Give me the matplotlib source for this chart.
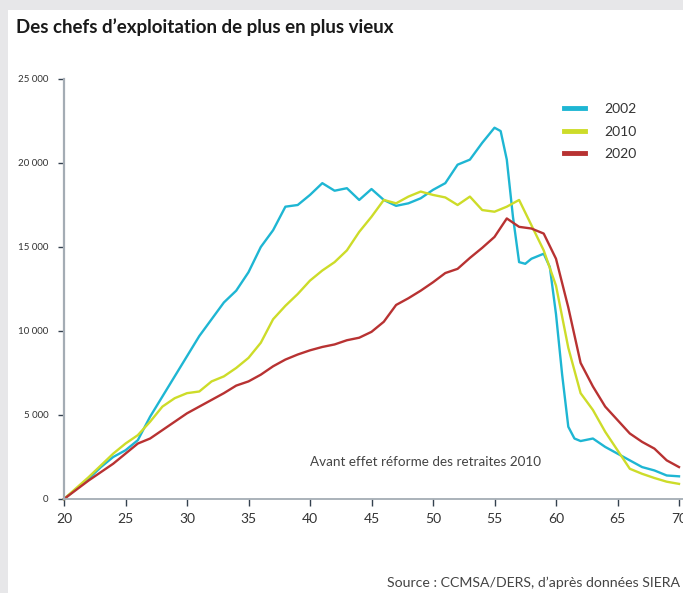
import matplotlib
matplotlib.use('Agg')
import matplotlib.pyplot as plt
from matplotlib.patches import Rectangle
from matplotlib.lines import Line2D
from matplotlib.ticker import FuncFormatter

plt.rcParams['font.family'] = ['Lato', 'DejaVu Sans']

# ages (2002 has a few half-year points around the retirement drop)
ages_2002 = [20, 21, 22, 23, 24, 25, 26, 27, 28, 29, 30, 31, 32, 33, 34, 35,
             36, 37, 38, 39, 40, 41, 42, 43, 44, 45, 46, 47, 48, 49, 50, 51,
             52, 53, 54, 55, 55.5, 56, 56.5, 57, 57.5, 58, 59, 59.5, 60, 60.5,
             61, 61.5, 62, 63, 64, 65, 66, 67, 68, 69, 70]
chefs_2002 = [0, 600, 1200, 1900, 2500, 2900, 3500, 4900, 6100, 7300, 8500,
              9700, 10700, 11700, 12400, 13500, 15000, 16000, 17400, 17500,
              18100, 18800, 18350, 18500, 17800, 18450, 17800, 17450, 17600,
              17900, 18400, 18800, 19900, 20200, 21200, 22100, 21900, 20200,
              16800, 14100, 14000, 14300, 14600, 13800, 11000, 7400, 4300,
              3600, 3450, 3600, 3100, 2700, 2300, 1900, 1700, 1400, 1350]

ages = list(range(20, 71))
chefs_2010 = [0, 650, 1300, 2000, 2700, 3300, 3800, 4600, 5500, 6000, 6300,
              6400, 7000, 7300, 7800, 8400, 9300, 10700, 11500, 12200, 13000,
              13600, 14100, 14800, 15900, 16800, 17800, 17600, 18000, 18300,
              18100, 17950, 17500, 18000, 17200, 17100, 17400, 17800, 16300,
              14800, 12700, 9000, 6300, 5300, 4000, 2900, 1800, 1500, 1250,
              1030, 900]
chefs_2020 = [0, 550, 1100, 1600, 2100, 2700, 3300, 3600, 4100, 4600, 5100,
              5500, 5900, 6300, 6750, 7000, 7400, 7900, 8300, 8600, 8850,
              9050, 9200, 9450, 9600, 9950, 10550, 11550, 11950, 12400, 12900,
              13450, 13700, 14350, 14950, 15600, 16700, 16200, 16100, 15800,
              14300, 11400, 8100, 6700, 5500, 4700, 3900, 3400, 3000, 2300,
              1900]

years = ['2002', '2010', '2020']
colors = ['#1eb6d3', '#cddc29', '#b83232']

fig = plt.figure(figsize=(6.83, 5.93), dpi=100)
fig.patch.set_facecolor('#e7e7e9')
fig.patches.append(Rectangle((8 / 683, 0), 1, 1 - 10 / 593,
                             transform=fig.transFigure, facecolor='white',
                             edgecolor='none', zorder=-5))

ax = fig.add_axes([64 / 683, 1 - 499 / 593, 615 / 683, 420 / 593])
ax.set_facecolor('none')
ax.set_zorder(2)

series = [(ages_2002, chefs_2002), (ages, chefs_2010), (ages, chefs_2020)]
for (x, y), c in zip(series, colors):
    ax.plot(x, y, color=c, lw=1.7, solid_joinstyle='round', clip_on=False)

ax.set_xlim(20, 70)
ax.set_ylim(0, 25000)
ax.set_xticks(range(20, 71, 5))
ax.set_yticks(range(0, 25001, 5000))
ax.yaxis.set_major_formatter(FuncFormatter(
    lambda v, p: '{:,}'.format(int(v)).replace(',', ' ')))

for s in ['top', 'right']:
    ax.spines[s].set_visible(False)
ax.spines['left'].set_color('#a4acb4')
ax.spines['left'].set_linewidth(1.6)
ax.spines['bottom'].set_color('#a4acb4')
ax.spines['bottom'].set_linewidth(1.3)
ax.spines['bottom'].set_bounds(20, 71)

ax.tick_params(axis='y', length=4, width=1, color='#34414f', pad=7,
               labelsize=7, labelcolor='#333333')
ax.tick_params(axis='x', length=5, width=1, color='#34414f', pad=5,
               labelsize=10, labelcolor='#333333')

handles = [Line2D([], [], color=c, lw=3.5) for c in colors]
leg = ax.legend(handles, years, loc='upper right', bbox_to_anchor=(0.952, 0.972),
                frameon=False, fontsize=10, handlelength=1.5, handletextpad=1.4,
                labelspacing=0.75, labelcolor='#333333')

ax.text(49.4, 2200, 'Avant effet réforme des retraites 2010', ha='center',
        va='center', fontsize=9.7, color='#444444')

fig.text(16 / 683, 1 - 27 / 593, 'Des chefs d\u2019exploitation de plus en plus vieux',
         ha='left', va='center', fontsize=13.5, fontweight='bold', color='#1a1a1a')
fig.text(680 / 683, 1 - 583 / 593, 'Source : CCMSA/DERS, d\u2019après données SIERA',
         ha='right', va='center', fontsize=10.2, color='#444444')

fig.savefig('out.png', dpi=100, facecolor=fig.get_facecolor())
